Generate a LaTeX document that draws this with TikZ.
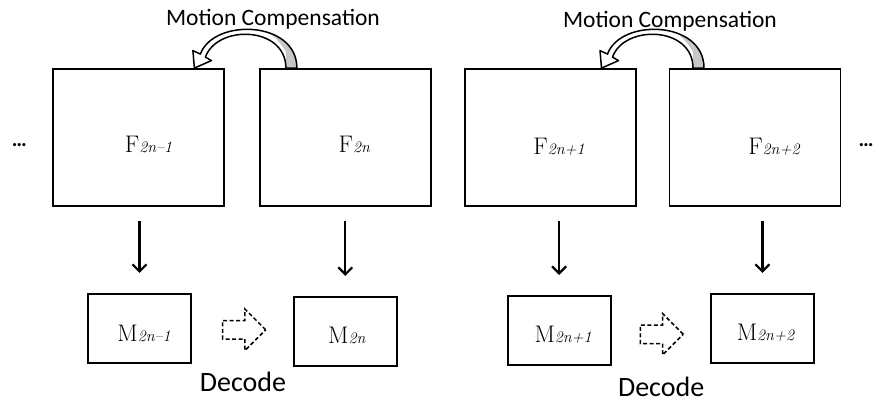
\documentclass[tikz,border=0pt]{standalone}
\usepackage{fontspec}
\newfontfamily\calibri{Carlito}
\usetikzlibrary{positioning,arrows.meta,shapes.arrows}

% frame label: big serif letter with a small italic index
\newcommand\frm[2]{{\fontsize{24}{24}\selectfont #1}{\fontsize{16}{16}\selectfont\itshape #2}}

% outline of the motion compensation arrow (origin = middle of its tail)
\newcommand\mcshape{(5.5,0) .. controls (5.5,-48) and (-78,-50) .. (-91,-14)
  -- (-98.5,-17.5) -- (-97,0) -- (-80,-7.5) -- (-86,-11)
  .. controls (-74,-44) and (-5.5,-42) .. (-5.5,0) -- cycle}

\tikzset{
  bigbox/.style={draw, line width=1.8pt, minimum width=171pt, minimum height=137pt, inner sep=0pt},
  smallbox/.style={draw, line width=1.8pt, minimum width=103pt, minimum height=69pt, inner sep=0pt},
  boxlabel/.style={inner sep=0pt},
  godown/.style={line width=2.2pt, -{Straight Barb[length=7pt,width=14pt]}},
  decarrow/.style={single arrow, draw, line width=1.5pt, dash pattern=on 4pt off 2.5pt,
    minimum height=43pt, single arrow head extend=11.5pt, inner sep=0pt},
  caption/.style={font=\calibri\fontsize{23.5}{24}\selectfont, inner sep=0pt},
  declabel/.style={font=\calibri\fontsize{28}{28}\selectfont, inner sep=0pt},
  dots/.style={font=\calibri\bfseries\fontsize{21}{21}\selectfont, inner sep=0pt},
  mcarrow/.pic={
    \begin{scope}
      \clip \mcshape;
      \fill[white] \mcshape;
      \fill[black!22] (-5.5,5) -- (-5.5,-16) .. controls (-12,-28) and (-20,-34) .. (-30,-42)
        -- (20,-60) -- (20,5) -- cycle;
    \end{scope}
    \draw[line width=1.5pt, line join=round] \mcshape;
  }
}

\begin{document}
\begin{tikzpicture}[x=1pt,y=-1pt]
\useasboundingbox (0,0) rectangle (879,403);

% frames
\node[bigbox] (f1) at (138.5,137.5) {};
\node[bigbox, right=34pt of f1] (f2) {};
\node[bigbox, right=32pt of f2] (f3) {};
\node[bigbox, right=32pt of f3] (f4) {};

\node[boxlabel] (lf1) at ([shift={(10pt,-7pt)}]f1.center) {\frm{F}{2n--1}};
\node[boxlabel] (lf2) at ([shift={(9pt,-7pt)}]f2.center) {\frm{F}{2n}};
\node[boxlabel] (lf3) at ([shift={(9pt,-9pt)}]f3.center) {\frm{F}{2n+1}};
\node[boxlabel] (lf4) at ([shift={(19pt,-9pt)}]f4.center) {\frm{F}{2n+2}};

\node[dots, left=25pt of f1, yshift=-8pt] (dl) {\ldots};
\node[dots, right=17pt of f4, yshift=-8pt] (dr) {\ldots};

% motion vectors
\pic at ([xshift=32.5pt]f2.north west) {mcarrow};
\pic at ([xshift=30pt]f4.north west) {mcarrow};
\node[caption, anchor=base] (mc1) at (273,26) {Motion Compensation};
\node[caption, anchor=base] (mc2) at (670,28) {Motion Compensation};

% decoded frames
\node[smallbox, below=86pt of f1, xshift=1pt] (m1) {};
\node[smallbox, below=89pt of f2] (m2) {};
\node[smallbox, below=88pt of f3, xshift=9pt] (m3) {};
\node[smallbox, below=86pt of f4, xshift=7.5pt] (m4) {};

\node[boxlabel] (lm1) at ([shift={(4.5pt,-5.5pt)}]m1.center) {\frm{M}{2n--1}};
\node[boxlabel] (lm2) at ([shift={(1.5pt,-4.5pt)}]m2.center) {\frm{M}{2n}};
\node[boxlabel] (lm3) at ([shift={(4pt,-4pt)}]m3.center) {\frm{M}{2n+1}};
\node[boxlabel] (lm4) at ([shift={(3pt,-4.5pt)}]m4.center) {\frm{M}{2n+2}};

\foreach \i in {1,...,4}
  \draw[godown, shorten <=14pt, shorten >=20pt] (f\i.south -| m\i.north) -- (m\i.north);

\node[decarrow, right=30pt of m1, yshift=-1.5pt] (d1) {\rule{0pt}{17pt}};
\node[decarrow, right=28pt of m3, yshift=-4pt] (d2) {\rule{0pt}{17pt}};
\node[declabel] (dec1) at ([shift={(3.5pt,-52pt)}]d1.center) {Decode};
\node[declabel] (dec2) at ([shift={(4pt,-53pt)}]d2.center) {Decode};
\end{tikzpicture}
\end{document}
